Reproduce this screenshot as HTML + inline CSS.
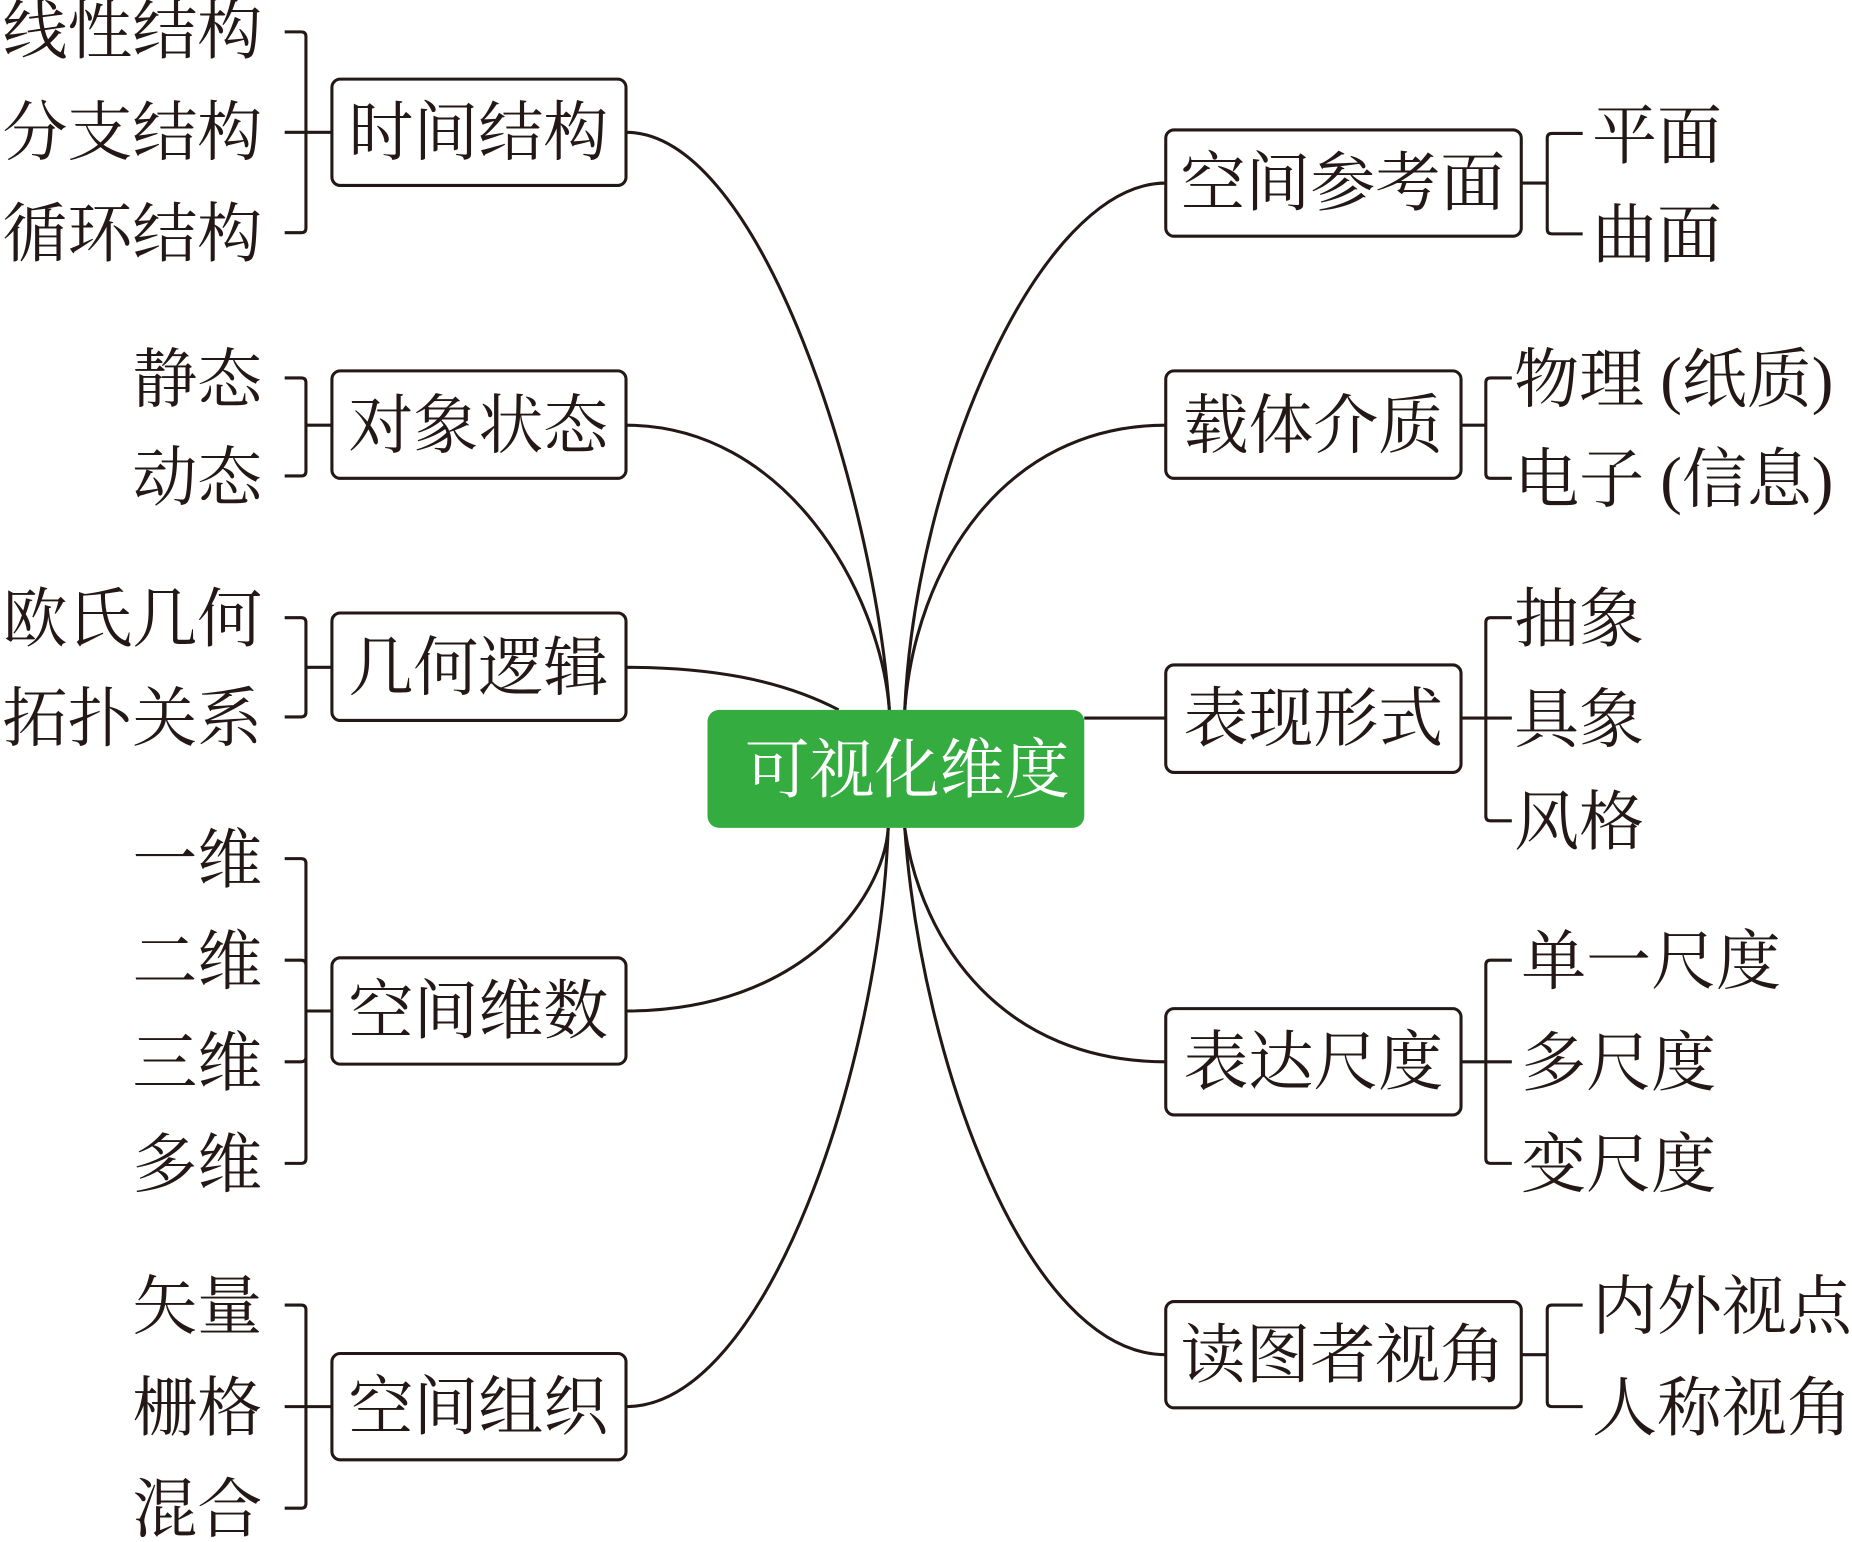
<!DOCTYPE html>
<html><head><meta charset="utf-8"><style>
html,body{margin:0;padding:0;background:#fff;}
svg{display:block;}
text{font-family:"Liberation Serif","Noto Serif CJK SC",serif;fill:#231815;font-size:55px;dominant-baseline:central;}
</style></head><body>
<svg width="1852" height="1542" viewBox="0 0 1568 1305.6" xmlns="http://www.w3.org/2000/svg">
<g fill="none" stroke="#231815" stroke-width="2.6">
<!-- curves -->
<path d="M530,112 C645,112 740,420 753,601"/>
<path d="M530,360 C665,360 745,500 753,601"/>
<path d="M530,565 C600,565 660,575 710,601"/>
<path d="M530,856 C680,856 748,760 752,701"/>
<path d="M530,1191 C650,1191 745,900 752,701"/>
<path d="M987,155 C880,155 775,400 766,601"/>
<path d="M987,360 C850,360 775,480 766,601"/>
<path d="M918,608 L987,608"/>
<path d="M987,899 C850,899 780,800 766,701"/>
<path d="M987,1147 C870,1147 780,900 766,701"/>
<!-- boxes -->
<rect x="281" y="67" width="249" height="90" rx="7"/>
<rect x="281" y="314" width="249" height="91" rx="7"/>
<rect x="281" y="519" width="249" height="91" rx="7"/>
<rect x="281" y="811" width="249" height="90" rx="7"/>
<rect x="281" y="1146" width="249" height="90" rx="7"/>
<rect x="987" y="110" width="301" height="90" rx="7"/>
<rect x="987" y="314" width="250" height="91" rx="7"/>
<rect x="987" y="563" width="250" height="91" rx="7"/>
<rect x="987" y="854" width="250" height="90" rx="7"/>
<rect x="987" y="1102" width="301" height="90" rx="7"/>
<!-- left brackets -->
<path d="M241,27 H255 Q259,27 259,31 V193 Q259,197 255,197 H241 M241,112 H281"/>
<path d="M241,320 H255 Q259,320 259,324 V399 Q259,403 255,403 H241 M259,360 H281"/>
<path d="M241,523 H255 Q259,523 259,527 V603 Q259,607 255,607 H241 M259,565 H281"/>
<path d="M241,727 H255 Q259,727 259,731 V981 Q259,985 255,985 H241 M241,813 H255 Q259,813 259,817 M241,899 H255 Q259,899 259,895 M259,856 H281"/>
<path d="M241,1105 H255 Q259,1105 259,1109 V1273 Q259,1277 255,1277 H241 M241,1191 H281"/>
<!-- right brackets -->
<path d="M1340,113 H1314 Q1310,113 1310,117 V194 Q1310,198 1314,198 H1340 M1288,155 H1310"/>
<path d="M1280,320 H1262 Q1258,320 1258,324 V401 Q1258,405 1262,405 H1280 M1237,360 H1258"/>
<path d="M1280,523 H1262 Q1258,523 1258,527 V691 Q1258,695 1262,695 H1280 M1237,608 H1280"/>
<path d="M1280,813 H1262 Q1258,813 1258,817 V981 Q1258,985 1262,985 H1280 M1237,899 H1280"/>
<path d="M1340,1105 H1314 Q1310,1105 1310,1109 V1187 Q1310,1191 1314,1191 H1340 M1288,1147 H1310"/>
</g>
<rect x="599" y="601" width="319" height="100" rx="10" fill="#35ac40"/>
<text x="768" y="653" text-anchor="middle" style="fill:#fff">可视化维度</text>
<!-- box labels -->
<text x="405" y="113" text-anchor="middle">时间结构</text>
<text x="405" y="361" text-anchor="middle">对象状态</text>
<text x="405" y="566" text-anchor="middle">几何逻辑</text>
<text x="405" y="857" text-anchor="middle">空间维数</text>
<text x="405" y="1192" text-anchor="middle">空间组织</text>
<text x="1137" y="156" text-anchor="middle">空间参考面</text>
<text x="1112" y="361" text-anchor="middle">载体介质</text>
<text x="1112" y="609" text-anchor="middle">表现形式</text>
<text x="1112" y="900" text-anchor="middle">表达尺度</text>
<text x="1137" y="1148" text-anchor="middle">读图者视角</text>
<!-- left leaves -->
<g text-anchor="end">
<text x="222" y="27">线性结构</text>
<text x="222" y="113">分支结构</text>
<text x="222" y="199">循环结构</text>
<text x="222" y="322">静态</text>
<text x="222" y="405">动态</text>
<text x="222" y="525">欧氏几何</text>
<text x="222" y="609">拓扑关系</text>
<text x="222" y="729">一维</text>
<text x="222" y="815">二维</text>
<text x="222" y="901">三维</text>
<text x="222" y="987">多维</text>
<text x="222" y="1107">矢量</text>
<text x="222" y="1193">栅格</text>
<text x="222" y="1279">混合</text>
</g>
<!-- right leaves -->
<text x="1348" y="116">平面</text>
<text x="1348" y="200">曲面</text>
<text x="1282" y="322">物理 (纸质)</text>
<text x="1282" y="407">电子 (信息)</text>
<text x="1282" y="525">抽象</text>
<text x="1282" y="610">具象</text>
<text x="1282" y="697">风格</text>
<text x="1288" y="815">单一尺度</text>
<text x="1288" y="901">多尺度</text>
<text x="1288" y="987">变尺度</text>
<text x="1348" y="1107">内外视点</text>
<text x="1348" y="1193">人称视角</text>
</svg>
</body></html>
